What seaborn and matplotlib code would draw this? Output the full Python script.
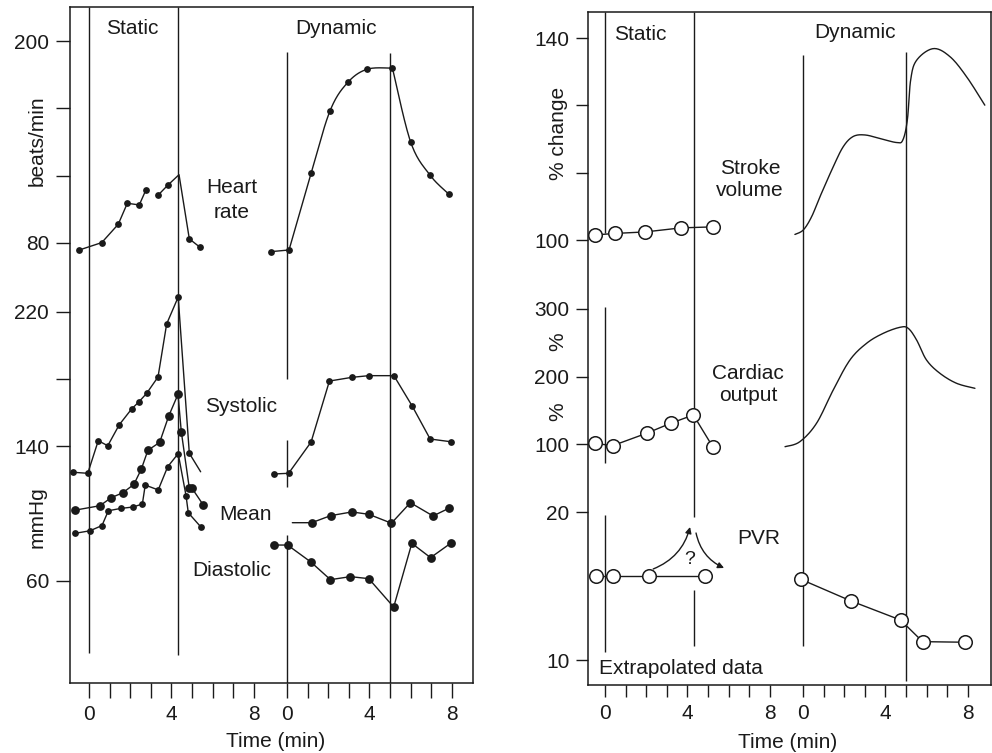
import numpy as np
import matplotlib
matplotlib.use("Agg")
import matplotlib.pyplot as plt
import seaborn as sns

# ---------------- DATA (time in min, values in native units) ----------------
# Left panel - heart rate (beats/min)
hr_static_a_t = [-0.47, 0.62, 1.42, 1.86, 2.44, 2.77]
hr_static_a_v = [75.8, 80.2, 91.1, 103.6, 102.6, 111.7]
hr_static_b_t = [3.36, 3.82, 4.37, 4.87, 5.39]
hr_static_b_v = [108.5, 114.3, 120.6, 82.4, 77.4]
hr_static_b_dot = [1, 1, 0, 1, 1]
hr_dyn_t = [-0.78, 0.10, 1.18, 2.09, 2.95, 3.90, 5.12, 6.01, 6.94, 7.85]
hr_dyn_v = [74.8, 75.8, 121.8, 158.6, 175.5, 183.4, 184.0, 139.8, 120.4, 109.1]

# Left panel - blood pressure (mmHg)
sys_static_t = [-0.76, -0.06, 0.45, 0.91, 1.47, 2.07, 2.43, 2.80, 3.35, 3.77, 4.33, 4.87, 5.42]
sys_static_v = [124.6, 124.0, 143.4, 140.4, 152.9, 162.3, 166.6, 171.6, 181.3, 212.9, 228.9, 135.9, 124.9]
sys_static_dot = [1] * 12 + [0]
mean_static_t = [-0.66, 0.53, 1.08, 1.64, 2.18, 2.54, 2.86, 3.43, 3.87, 4.32, 4.48, 4.87, 5.00, 5.55]
mean_static_v = [102.1, 104.7, 109.5, 112.4, 117.4, 126.5, 137.7, 142.4, 158.1, 171.0, 148.8, 115.1, 115.1, 105.1]
dia_static_t = [-0.66, 0.05, 0.63, 0.94, 1.54, 2.12, 2.59, 2.73, 3.36, 3.82, 4.33, 4.71, 4.82, 5.42]
dia_static_v = [88.3, 89.8, 92.9, 101.7, 103.1, 103.9, 105.7, 117.0, 114.1, 127.9, 135.7, 110.7, 100.5, 92.2]

sys_dyn_t = [-0.62, 0.08, 1.17, 2.06, 3.15, 3.97, 5.19, 6.08, 6.95, 7.94]
sys_dyn_v = [123.6, 124.0, 142.6, 178.9, 181.1, 182.1, 182.1, 164.0, 144.4, 142.8]
mean_dyn_t = [0.26, 1.20, 2.12, 3.15, 3.97, 5.07, 5.99, 7.09, 7.88]
mean_dyn_v = [94.6, 94.6, 98.8, 101.0, 99.6, 94.3, 106.5, 98.6, 103.3]
mean_dyn_dot = [0, 1, 1, 1, 1, 1, 1, 1, 1]
dia_dyn_t = [-0.62, 0.03, 1.16, 2.11, 3.08, 3.97, 5.18, 6.06, 6.97, 7.94]
dia_dyn_v = [81.3, 81.3, 71.2, 60.7, 62.5, 61.3, 44.4, 82.3, 73.8, 82.3]

# Right panel - stroke volume (% change)
sv_static_t = [-0.49, 0.49, 1.96, 3.69, 5.26]
sv_static_v = [101.0, 101.3, 101.6, 102.4, 102.6]
sv_dyn_t = [-0.39, 0.02, 0.42, 0.83, 1.47, 1.96, 2.44, 3.01, 3.74, 4.55, 4.85,
            5.07, 5.23, 5.52, 6.33, 7.14, 7.95, 8.83]
sv_dyn_v = [101.1, 102.0, 104.6, 108.6, 114.5, 118.5, 120.5, 120.8, 120.1, 119.3, 119.8,
            123.8, 131.7, 135.6, 137.9, 136.3, 132.3, 126.7]

# Right panel - cardiac output (%)
co_static_t = [-0.49, 0.37, 2.02, 3.19, 4.29, 5.23]
co_static_v = [101.0, 97.5, 115.9, 130.7, 143.0, 96.0]
co_dyn_t = [-0.87, -0.15, 0.66, 1.47, 2.28, 3.09, 3.90, 4.71, 5.11, 5.52, 6.00, 6.65, 7.46, 8.35]
co_dyn_v = [96.0, 103.4, 130.7, 180.0, 224.4, 249.2, 264.0, 272.9, 271.4, 254.0, 224.4, 204.7, 189.9, 182.5]

# Right panel - PVR
pvr_static_t = [-0.44, 0.40, 2.14, 4.87]
pvr_static_v = [15.7, 15.7, 15.7, 15.7]
pvr_dyn_t = [-0.10, 2.33, 4.74, 5.81, 7.87]
pvr_dyn_v = [15.45, 13.99, 12.70, 11.24, 11.20]

# tick labels
x_tick_minutes = list(range(0, 9))
x_tick_labels = ["0", "", "", "", "4", "", "", "", "8"]
left_hr_ticks = [200, 160, 120, 80]
left_hr_labels = ["200", "", "", "80"]
left_bp_ticks = [220, 180, 140, 60]
left_bp_labels = ["220", "", "140", "60"]
right_sv_ticks = [140, 126.67, 113.33, 100]
right_sv_labels = ["140", "", "", "100"]
right_co_ticks = [300, 200, 100]
right_co_labels = ["300", "200", "100"]
right_pvr_ticks = [20, 10]
right_pvr_labels = ["20", "10"]

# ---------------- LAYOUT (stacked-axis mappings) ----------------
DYN_OFFSET = 9.61          # dynamic time axis is placed after the static one
HR_OFFSET = 181.1          # heart-rate block stacked above pressure block
STATIC_END = 4.3
DYN_END = 5.0
HR_DYN_CORNERS = [1, 6]    # sharp corners of the hand-drawn heart-rate curve


def dx(t):
    return np.asarray(t, float) + DYN_OFFSET


def sx(t):
    return np.asarray(t, float)


def hr_y(v):
    return np.asarray(v, float) + HR_OFFSET


def bp_y(v):
    return np.asarray(v, float)


def sv_y(v):
    return 445 + (np.asarray(v, float) - 100) * 5.05


def co_y(v):
    return 241 + (np.asarray(v, float) - 100) * 0.675


def pvr_y(v):
    return 25 + (np.asarray(v, float) - 10) * 14.8


def _cr(p, n=16):
    p = np.vstack([p[0], p, p[-1]])
    out = []
    s = np.linspace(0, 1, n, endpoint=False)[:, None]
    for i in range(1, len(p) - 2):
        p0, p1, p2, p3 = p[i - 1], p[i], p[i + 1], p[i + 2]
        out.append(0.5 * (2 * p1 + (-p0 + p2) * s + (2 * p0 - 5 * p1 + 4 * p2 - p3) * s ** 2
                          + (-p0 + 3 * p1 - 3 * p2 + p3) * s ** 3))
    out.append(p[-2][None, :])
    return np.vstack(out)


def smooth_path(x, y, corners=()):
    """Catmull-Rom rendering of a hand-drawn curve through the read points."""
    p = np.column_stack([np.asarray(x, float), np.asarray(y, float)])
    cuts = [0] + list(corners) + [len(p) - 1]
    parts = []
    for a, b in zip(cuts[:-1], cuts[1:]):
        parts.append(_cr(p[a:b + 1]))
    out = np.vstack(parts)
    return out[:, 0], out[:, 1]


# ---------------- STYLE ----------------
sns.set_style("ticks")
plt.rcParams["font.family"] = ["Liberation Sans", "DejaVu Sans"]
INK = "#1a1a1a"
FS = 15

fig = plt.figure(figsize=(9.92, 7.53), dpi=100)
axL = fig.add_axes([70 / 992, 1 - 683 / 753, 403 / 992, 676 / 753])
axR = fig.add_axes([588 / 992, 1 - 685 / 753, 403 / 992, 673 / 753])


def series(ax, x, y, dots=None, size=23, open_=False, corners=None):
    x = np.asarray(x, float)
    y = np.asarray(y, float)
    lx, ly = smooth_path(x, y, corners) if corners is not None else (x, y)
    sns.lineplot(x=lx, y=ly, ax=ax, color=INK, lw=1.0, sort=False, estimator=None, zorder=3)
    mask = np.ones(len(x), bool) if dots is None else np.asarray(dots, bool)
    if open_:
        sns.scatterplot(x=x[mask], y=y[mask], ax=ax, s=size, facecolor="white",
                        edgecolor=INK, linewidth=1.1, zorder=4)
    else:
        sns.scatterplot(x=x[mask], y=y[mask], ax=ax, s=size, color=INK,
                        edgecolor=INK, linewidth=0, zorder=4)


def curve(ax, x, y):
    lx, ly = smooth_path(x, y)
    sns.lineplot(x=lx, y=ly, ax=ax, color=INK, lw=1.0, sort=False, estimator=None, zorder=3)


SMALL = 24
BIG = 40
OPEN = 95

# ---- left panel ----
series(axL, sx(hr_static_a_t), hr_y(hr_static_a_v), size=SMALL)
series(axL, sx(hr_static_b_t), hr_y(hr_static_b_v), hr_static_b_dot, size=SMALL)
series(axL, dx(hr_dyn_t), hr_y(hr_dyn_v), size=SMALL, corners=HR_DYN_CORNERS)
series(axL, sx(sys_static_t), bp_y(sys_static_v), sys_static_dot, size=SMALL)
series(axL, sx(mean_static_t), bp_y(mean_static_v), size=BIG)
series(axL, sx(dia_static_t), bp_y(dia_static_v), size=SMALL)
series(axL, dx(sys_dyn_t), bp_y(sys_dyn_v), size=SMALL)
series(axL, dx(mean_dyn_t), bp_y(mean_dyn_v), mean_dyn_dot, size=BIG)
series(axL, dx(dia_dyn_t), bp_y(dia_dyn_v), size=BIG)

L_TOP, L_BOT = 401.5, -0.8
vkw = dict(color=INK, lw=1.0, zorder=2)
axL.vlines(0.0, 17.0, L_TOP, **vkw)
axL.vlines(STATIC_END, 15.8, L_TOP, **vkw)
axL.vlines(DYN_OFFSET, 180.1, 374.8, **vkw)
axL.vlines(DYN_OFFSET, 115.8, 143.8, **vkw)
axL.vlines(DYN_OFFSET, L_BOT, 87.3, **vkw)
axL.vlines(DYN_OFFSET + DYN_END, L_BOT, 374.2, **vkw)

axL.set_xlim(-0.922, 18.64)
axL.set_ylim(L_BOT, L_TOP)

# ---- right panel ----
series(axR, sx(sv_static_t), sv_y(sv_static_v), size=OPEN, open_=True)
curve(axR, dx(sv_dyn_t), sv_y(sv_dyn_v))
series(axR, sx(co_static_t), co_y(co_static_v), size=OPEN, open_=True)
curve(axR, dx(co_dyn_t), co_y(co_dyn_v))
series(axR, sx(pvr_static_t), pvr_y(pvr_static_v), size=OPEN, open_=True)
series(axR, dx(pvr_dyn_t), pvr_y(pvr_dyn_v), size=OPEN, open_=True)

R_TOP = 673
axR.vlines(0.0, 452, R_TOP, **vkw)
axR.vlines(0.0, 222, 378, **vkw)
axR.vlines(0.0, 33, 170, **vkw)
axR.vlines(STATIC_END, 168, R_TOP, **vkw)
axR.vlines(STATIC_END, 39, 95, **vkw)
axR.vlines(DYN_OFFSET, 39, 630, **vkw)
axR.vlines(DYN_OFFSET + DYN_END, 4, 633, **vkw)

akw = dict(arrowstyle="-|>", color=INK, lw=1.0, mutation_scale=9, shrinkA=0, shrinkB=0)
axR.annotate("", xy=(4.13, 158), xytext=(2.34, 116),
             arrowprops=dict(connectionstyle="arc3,rad=0.25", **akw))
axR.annotate("", xy=(5.78, 117), xytext=(4.42, 152),
             arrowprops=dict(connectionstyle="arc3,rad=0.25", **akw))

axR.set_xlim(-0.825, 18.74)
axR.set_ylim(0, R_TOP)

# ---- ticks ----
xt = list(x_tick_minutes) + list(np.asarray(x_tick_minutes, float) + DYN_OFFSET)
xl = x_tick_labels + x_tick_labels
for ax, xlen, ylen in ((axL, 11, 10), (axR, 8.5, 8.5)):
    ax.set_xticks(xt)
    ax.set_xticklabels(xl)
    ax.tick_params(axis="x", direction="out", length=xlen, width=1.0, pad=5,
                   labelsize=FS, colors=INK)
    ax.tick_params(axis="y", direction="out", length=ylen, width=1.0, pad=5,
                   labelsize=FS, colors=INK)
    for s in ax.spines.values():
        s.set_visible(True)
        s.set_linewidth(1.1)
        s.set_color(INK)

axL.set_yticks(list(hr_y(left_hr_ticks)) + list(bp_y(left_bp_ticks)))
axL.set_yticklabels(left_hr_labels + left_bp_labels)
axR.set_yticks(list(sv_y(right_sv_ticks)) + list(co_y(right_co_ticks)) + list(pvr_y(right_pvr_ticks)))
axR.set_yticklabels(right_sv_labels + right_co_labels + right_pvr_labels)

# ---- texts ----
tkw = dict(fontsize=FS, color=INK, ha="center", va="center")
axL.text(2.09, 389, "Static", **tkw)
axL.text(11.99, 389, "Dynamic", **tkw)
axL.text(6.94, 286.7, "Heart\nrate", linespacing=1.35, **tkw)
axL.text(7.38, 164, "Systolic", **tkw)
axL.text(7.62, 99.2, "Mean", **tkw)
axL.text(6.94, 66.4, "Diastolic", **tkw)
ty = axL.get_yaxis_transform()
axL.text(-0.082, 321.8, "beats/min", rotation=90, transform=ty, **tkw)
axL.text(-0.082, 98, "mmHg", rotation=90, transform=ty, **tkw)
axL.text((276 - 70) / 403, -0.087, "Time (min)", transform=axL.transAxes, **tkw)

axR.text(1.70, 650, "Static", **tkw)
axR.text(12.14, 652, "Dynamic", **tkw)
axR.text(7.04, 505.5, "Stroke\nvolume", linespacing=1.25, **tkw)
axR.text(6.94, 300.5, "Cardiac\noutput", linespacing=1.25, **tkw)
axR.text(7.48, 146, "PVR", **tkw)
axR.text(4.09, 125, "?", fontsize=14, color=INK, ha="center", va="center")
axR.text(-0.29, 17, "Extrapolated data", fontsize=FS, color=INK, ha="left", va="center")
tyR = axR.get_yaxis_transform()
axR.text(-0.074, 552, "% change", rotation=90, transform=tyR, **tkw)
axR.text(-0.074, 343, "%", rotation=90, transform=tyR, **tkw)
axR.text(-0.074, 273, "%", rotation=90, transform=tyR, **tkw)
axR.text((788 - 588) / 403, -0.085, "Time (min)", transform=axR.transAxes, **tkw)

fig.savefig("out.png", dpi=100)
